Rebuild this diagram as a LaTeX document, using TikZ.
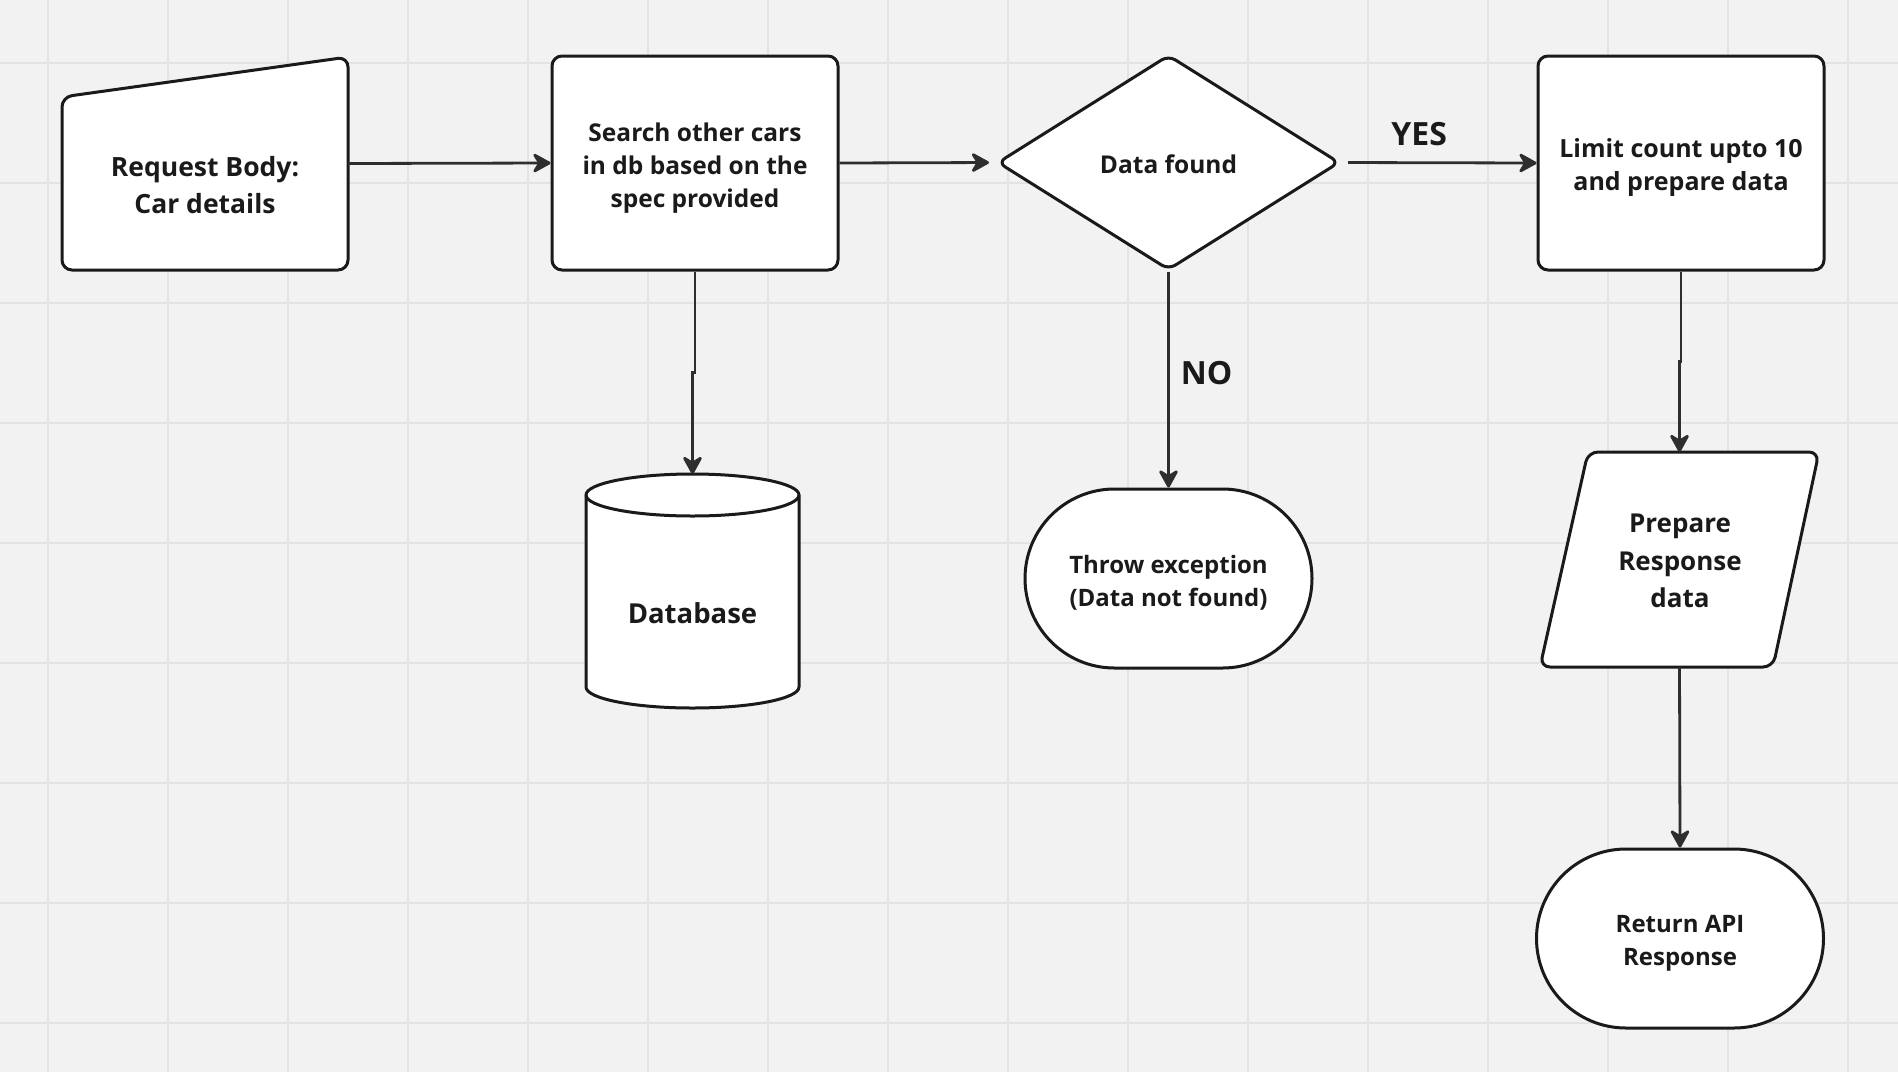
\documentclass[tikz,border=0pt]{standalone}
\usepackage{fontspec}
\setmainfont{Open Sans}
\usetikzlibrary{arrows.meta,shapes.geometric,shapes.misc,calc}

\definecolor{paper}{HTML}{F2F2F2}
\definecolor{gridline}{HTML}{E3E3E3}
\definecolor{ink}{HTML}{1A1A1A}
\definecolor{wire}{HTML}{2E2E2E}

\begin{document}
\begin{tikzpicture}[x=1pt, y=-1pt,
  % text styles
  txt/.style={font=\bfseries\fontsize{24.5}{33}\selectfont, text=ink, align=center, inner sep=0pt},
  bigtxt/.style={txt, font=\bfseries\fontsize{26.5}{37}\selectfont},
  tag/.style={font=\bfseries\fontsize{32}{38}\selectfont, text=ink, inner sep=0pt},
  % shape styles
  outline/.style={draw=ink, line width=3pt, fill=white, line join=round},
  frame/.style={inner sep=0pt, outer sep=0pt},
  proc/.style={outline, rectangle, rounded corners=10pt, inner sep=0pt,
               minimum width=286pt, minimum height=214pt},
  term/.style={outline, rounded rectangle, inner sep=0pt,
               minimum width=287pt, minimum height=179pt},
  decision/.style={outline, diamond, rounded corners=8pt, inner sep=0pt,
                   minimum width=342pt, minimum height=215pt},
  conn/.style={draw=wire, line width=2.8pt,
               -{Stealth[length=21pt, width=23pt, inset=7pt, round]}}
]

% canvas and grid
\useasboundingbox (0,0) rectangle (1898,1072);
\fill[paper] (0,0) rectangle (1898,1072);
\foreach \gx in {48,168,...,1848}
  \draw[gridline, line width=2pt] (\gx,0) -- (\gx,1072);
\foreach \gy in {63,183,...,1023}
  \draw[gridline, line width=2pt] (0,\gy) -- (1898,\gy);

% manual input: request body
\node[frame, minimum width=286pt, minimum height=213pt] (req) at (205,163.5) {};
\draw[outline, rounded corners=10pt]
  (req.south west) -- ($(req.north west)+(0,40)$) -- (req.north east)
  -- (req.south east) -- cycle;
\node[bigtxt] (reqtxt) at (205,185) {Request Body:\\Car details};

% process: search
\node[proc] (search) at (695,163) {};
\node[txt] (searchtxt) at (695,167.8) {Search other cars\\in db based on the\\spec provided};

% decision
\node[decision] (dec) at (1168.5,162.5) {};
\node[txt] (dectxt) at (1168.5,164) {Data found};

% process: limit
\node[proc] (limit) at (1681,163) {};
\node[txt, font=\bfseries\fontsize{25}{33}\selectfont] (limittxt) at (1681,167.7)
  {Limit count upto 10\\and prepare data};

% database cylinder
\node[frame, minimum width=213pt, minimum height=234pt] (db) at (692.5,591) {};
\draw[outline]
  (586,495) -- (586,687)
  arc[start angle=180, end angle=360, x radius=106.5pt, y radius=21pt]
  -- (799,495)
  arc[start angle=0, end angle=180, x radius=106.5pt, y radius=21pt] -- cycle;
\draw[draw=ink, line width=3pt]
  (586,495) arc[start angle=180, end angle=360, x radius=106.5pt, y radius=21pt];
\node[txt, font=\bfseries\fontsize{27.5}{33}\selectfont] (dbtxt) at (692.5,613) {Database};

% terminal: exception
\node[term] (throw) at (1168.5,578.5) {};
\node[txt, font=\bfseries\fontsize{24}{33}\selectfont] (throwtxt) at (1168.5,582.5)
  {Throw exception\\(Data not found)};

% data: prepare response
\node[frame, minimum width=279pt, minimum height=215pt] (prep) at (1679.5,559.5) {};
\draw[outline, rounded corners=10pt]
  ($(prep.north west)+(48,0)$) -- (prep.north east)
  -- ($(prep.south east)+(-46,0)$) -- (prep.south west) -- cycle;
\node[txt, font=\bfseries\fontsize{26}{37.5}\selectfont] (preptxt) at (1680,561)
  {Prepare\\Response\\data};

% terminal: return
\node[term] (ret) at (1680,938.5) {};
\node[txt, font=\bfseries\fontsize{24}{33}\selectfont] (rettxt) at (1680,943)
  {Return API\\Response};

% connectors
\draw[conn] (req.east) -- (search.west);
\draw[conn, shorten >=7pt] (search.east) -- (dec.west);
\draw[conn, shorten <=7pt] (dec.east) -- node[tag, pos=0.4, yshift=29pt] (yes) {YES} (limit.west);
\draw[conn] (dec.south) -- node[tag, pos=0.47, xshift=38pt] (no) {NO} (throw.north);
\draw[conn] (search.south) |- ($(search.south)!0.5!(db.north)$) -| (db.north);
\draw[conn] (limit.south) |- ($(limit.south)!0.5!(prep.north)$) -| (prep.north);
\draw[conn] (prep.south) -- (ret.north);

\end{tikzpicture}
\end{document}
